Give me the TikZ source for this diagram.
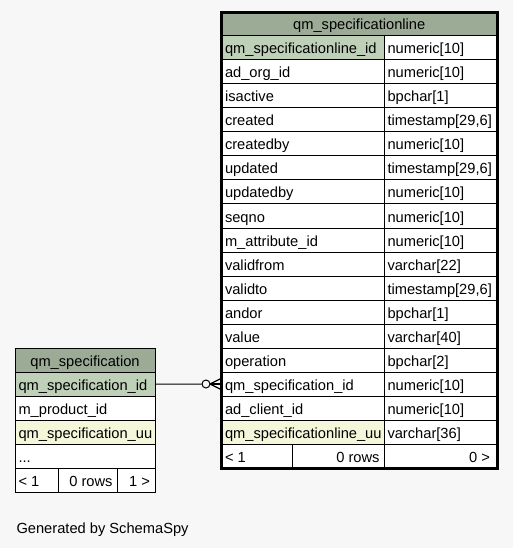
\documentclass[tikz,border=0pt]{standalone}
\usepackage{fontspec}
\setmainfont{Liberation Sans}
\definecolor{bgc}{HTML}{F7F7F7}
\definecolor{hdr}{HTML}{9BAB96}
\definecolor{pkc}{HTML}{BED1B8}
\definecolor{uuc}{HTML}{F4F7DA}
\tikzset{
  cell/.style={draw=black, line width=1bp, inner sep=0pt, outer sep=0pt, anchor=north west, minimum height=24bp},
  txt/.style={inner sep=0pt, outer sep=0pt, font=\fontsize{14.67bp}{17bp}\selectfont},
  conn/.style={draw=black, line width=1bp},
  crow/.style={draw=black, line width=1.3bp}
}
% right table row: id, top y, column name, type, fill
\newcommand\rtrow[5]{%
  \node[cell, fill=#5, minimum width=162.5bp] (#1) at (221.5,#2) {};
  \node[cell, fill=white, minimum width=113bp] (#1t) at (384,#2) {};
  \node[txt, anchor=base west] (#1n) at (225,#2+18) {#3};
  \node[txt, anchor=base west] (#1y) at (387.5,#2+18) {#4};
}
% left table row: id, top y, text, fill
\newcommand\ltrow[4]{%
  \node[cell, fill=#4, minimum width=140bp] (#1) at (15,#2) {};
  \node[txt, anchor=base west] (#1n) at (18.5,#2+18) {#3};
}
\begin{document}
\begin{tikzpicture}[x=1bp,y=-1bp]
\fill[bgc] (0,0) rectangle (513,548);
\useasboundingbox (0,0) rectangle (513,548);

% ---------------- right table ----------------
\node[cell, fill=hdr, minimum width=275.5bp] (rh) at (221.5,12.5) {};
\node[txt, anchor=base] (rhn) at (359.25,30) {qm\_specificationline};
\rtrow{r1}{36}{qm\_specificationline\_id}{numeric[10]}{pkc}
\rtrow{r2}{60}{ad\_org\_id}{numeric[10]}{white}
\rtrow{r3}{84}{isactive}{bpchar[1]}{white}
\rtrow{r4}{108}{created}{timestamp[29,6]}{white}
\rtrow{r5}{132}{createdby}{numeric[10]}{white}
\rtrow{r6}{156}{updated}{timestamp[29,6]}{white}
\rtrow{r7}{180}{updatedby}{numeric[10]}{white}
\rtrow{r8}{204}{seqno}{numeric[10]}{white}
\rtrow{r9}{228}{m\_attribute\_id}{numeric[10]}{white}
\rtrow{r10}{252}{validfrom}{varchar[22]}{white}
\rtrow{r11}{276}{validto}{timestamp[29,6]}{white}
\rtrow{r12}{300}{andor}{bpchar[1]}{white}
\rtrow{r13}{324}{value}{varchar[40]}{white}
\rtrow{r14}{348}{operation}{bpchar[2]}{white}
\rtrow{r15}{372}{qm\_specification\_id}{numeric[10]}{white}
\rtrow{r16}{396}{ad\_client\_id}{numeric[10]}{white}
\rtrow{r17}{420}{qm\_specificationline\_uu}{varchar[36]}{uuc}
% footer
\node[cell, fill=white, minimum width=70.5bp] (rf1) at (221.5,444) {};
\node[cell, fill=white, minimum width=92bp] (rf2) at (292,444) {};
\node[cell, fill=white, minimum width=113bp] (rf3) at (384,444) {};
\node[txt, anchor=base west] (rf1n) at (225,462) {< 1};
\node[txt, anchor=base east] (rf2n) at (379.5,462) {0 rows};
\node[txt, anchor=base east] (rf3n) at (490,462) {0 >};
% thick outline
\draw[line width=3bp] (221.5,12.5) rectangle (497,468);

% ---------------- left table ----------------
\node[cell, fill=hdr, minimum width=140bp] (lh) at (15,348.5) {};
\node[txt, anchor=base] (lhn) at (85,366) {qm\_specification};
\ltrow{l1}{372}{qm\_specification\_id}{pkc}
\ltrow{l2}{396}{m\_product\_id}{white}
\ltrow{l3}{420}{qm\_specification\_uu}{uuc}
\ltrow{l4}{444}{...}{white}
\node[cell, fill=white, minimum width=43bp] (lf1) at (15,468) {};
\node[cell, fill=white, minimum width=59bp] (lf2) at (58,468) {};
\node[cell, fill=white, minimum width=38bp] (lf3) at (117,468) {};
\node[txt, anchor=base west] (lf1n) at (18.5,486) {< 1};
\node[txt, anchor=base east] (lf2n) at (112.5,486) {0 rows};
\node[txt, anchor=base east] (lf3n) at (150,486) {1 >};

% ---------------- connector ----------------
\node[circle, draw=black, line width=1bp, fill=bgc, minimum size=8bp, inner sep=0pt] (odot) at (206,384) {};
\coordinate (cfp) at (210,384);
\coordinate (cft) at (220,379);
\coordinate (cfm) at (220,384);
\coordinate (cfb) at (220,389);
\draw[conn] (l1.east) -- (odot.west);
\draw[crow] (cfp) -- (cft);
\draw[crow] (cfp) -- (cfm);
\draw[crow] (cfp) -- (cfb);

% ---------------- footer text ----------------
\node[txt, anchor=base west] (gen) at (16.5,533) {Generated by SchemaSpy};
\end{tikzpicture}
\end{document}
